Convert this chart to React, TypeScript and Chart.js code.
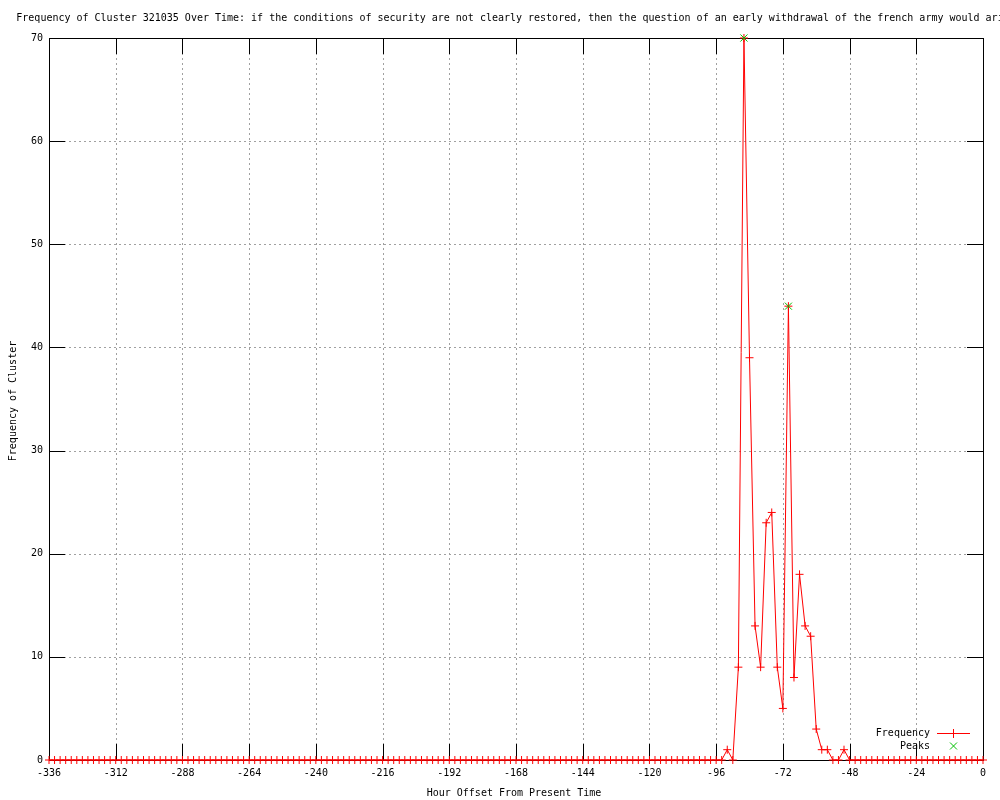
import { useEffect, useRef } from "react";
import { Chart, registerables } from "chart.js";

Chart.register(...registerables);

const titleText =
  "Frequency of Cluster 321035 Over Time: if the conditions of security are not clearly restored, then the question of an early withdrawal of the french army would arise";
const xAxisTitle = "Hour Offset From Present Time";
const yAxisTitle = "Frequency of Cluster";
const legendLabels = ["Frequency", "Peaks"];

const hours = [
  -336, -334, -332, -330, -328, -326, -324, -322, -320, -318, -316, -314,
  -312, -310, -308, -306, -304, -302, -300, -298, -296, -294, -292, -290,
  -288, -286, -284, -282, -280, -278, -276, -274, -272, -270, -268, -266,
  -264, -262, -260, -258, -256, -254, -252, -250, -248, -246, -244, -242,
  -240, -238, -236, -234, -232, -230, -228, -226, -224, -222, -220, -218,
  -216, -214, -212, -210, -208, -206, -204, -202, -200, -198, -196, -194,
  -192, -190, -188, -186, -184, -182, -180, -178, -176, -174, -172, -170,
  -168, -166, -164, -162, -160, -158, -156, -154, -152, -150, -148, -146,
  -144, -142, -140, -138, -136, -134, -132, -130, -128, -126, -124, -122,
  -120, -118, -116, -114, -112, -110, -108, -106, -104, -102, -100, -98,
  -96, -94, -92, -90, -88, -86, -84, -82, -80, -78, -76, -74,
  -72, -70, -68, -66, -64, -62, -60, -58, -56, -54, -52, -50,
  -48, -46, -44, -42, -40, -38, -36, -34, -32, -30, -28, -26,
  -24, -22, -20, -18, -16, -14, -12, -10, -8, -6, -4, -2,
  0,
];

const frequency = [
  0, 0, 0, 0, 0, 0, 0, 0, 0, 0, 0, 0,
  0, 0, 0, 0, 0, 0, 0, 0, 0, 0, 0, 0,
  0, 0, 0, 0, 0, 0, 0, 0, 0, 0, 0, 0,
  0, 0, 0, 0, 0, 0, 0, 0, 0, 0, 0, 0,
  0, 0, 0, 0, 0, 0, 0, 0, 0, 0, 0, 0,
  0, 0, 0, 0, 0, 0, 0, 0, 0, 0, 0, 0,
  0, 0, 0, 0, 0, 0, 0, 0, 0, 0, 0, 0,
  0, 0, 0, 0, 0, 0, 0, 0, 0, 0, 0, 0,
  0, 0, 0, 0, 0, 0, 0, 0, 0, 0, 0, 0,
  0, 0, 0, 0, 0, 0, 0, 0, 0, 0, 0, 0,
  0, 0, 1, 0, 9, 70, 39, 13, 9, 23, 24, 9,
  5, 44, 8, 18, 13, 12, 3, 1, 1, 0, 0, 1,
  0, 0, 0, 0, 0, 0, 0, 0, 0, 0, 0, 0,
  0, 0, 0, 0, 0, 0, 0, 0, 0, 0, 0, 0,
  0,
];

const peakHours = [-86, -70];
const peakValues = [70, 44];

const xTicks = [-336, -312, -288, -264, -240, -216, -192, -168, -144, -120, -96, -72, -48, -24, 0];
const yTicks = [0, 10, 20, 30, 40, 50, 60, 70];

const FONT = "'DejaVu Sans Mono', monospace";
const RED = "#ff0000";
const GREEN = "#00c000";

const decorPlugin = {
  id: "gnuplotDecor",
  beforeDatasetsDraw(chart: any) {
    const { ctx, chartArea } = chart;
    const { left, right, top, bottom } = chartArea;
    const xs = chart.scales.x;
    const ys = chart.scales.y;
    ctx.save();
    ctx.strokeStyle = "#a0a0a0";
    ctx.lineWidth = 1;
    ctx.setLineDash([2, 3]);
    xTicks.forEach((v) => {
      if (v === xTicks[0] || v === xTicks[xTicks.length - 1]) return;
      const px = Math.round(xs.getPixelForValue(v)) + 0.5;
      ctx.beginPath();
      ctx.moveTo(px, top);
      ctx.lineTo(px, bottom);
      ctx.stroke();
    });
    yTicks.forEach((v) => {
      if (v === yTicks[0] || v === yTicks[yTicks.length - 1]) return;
      const py = Math.round(ys.getPixelForValue(v)) + 0.5;
      ctx.beginPath();
      ctx.moveTo(left, py);
      ctx.lineTo(right, py);
      ctx.stroke();
    });
    ctx.setLineDash([]);
    // inward ticks
    ctx.strokeStyle = "#000";
    const tl = 16;
    xTicks.forEach((v) => {
      const px = Math.round(xs.getPixelForValue(v)) + 0.5;
      ctx.beginPath();
      ctx.moveTo(px, bottom);
      ctx.lineTo(px, bottom - tl);
      ctx.moveTo(px, top);
      ctx.lineTo(px, top + tl);
      ctx.stroke();
    });
    yTicks.forEach((v) => {
      const py = Math.round(ys.getPixelForValue(v)) + 0.5;
      ctx.beginPath();
      ctx.moveTo(left, py);
      ctx.lineTo(left + tl, py);
      ctx.moveTo(right, py);
      ctx.lineTo(right - tl, py);
      ctx.stroke();
    });
    // border
    ctx.strokeRect(
      Math.round(left) + 0.5,
      Math.round(top) + 0.5,
      Math.round(right) - Math.round(left),
      Math.round(bottom) - Math.round(top)
    );
    ctx.restore();
  },
  afterDraw(chart: any) {
    const { ctx, chartArea } = chart;
    const { left, right, top, bottom } = chartArea;
    const cx = (left + right) / 2;
    ctx.save();
    ctx.fillStyle = "#000";
    ctx.font = `10px ${FONT}`;
    ctx.textBaseline = "middle";
    ctx.textAlign = "center";
    ctx.fillText(titleText, cx, 18);
    ctx.fillText(xAxisTitle, cx - 2, 793);
    ctx.save();
    ctx.translate(13, (top + bottom) / 2 + 2);
    ctx.rotate(-Math.PI / 2);
    ctx.fillText(yAxisTitle, 0, 0);
    ctx.restore();
    // legend
    ctx.textAlign = "right";
    ctx.fillText(legendLabels[0], 930, 733);
    ctx.fillText(legendLabels[1], 930, 746);
    ctx.lineWidth = 1;
    ctx.strokeStyle = RED;
    ctx.beginPath();
    ctx.moveTo(937, 733.5);
    ctx.lineTo(970, 733.5);
    ctx.moveTo(953.5, 729);
    ctx.lineTo(953.5, 738);
    ctx.stroke();
    ctx.strokeStyle = GREEN;
    ctx.beginPath();
    ctx.moveTo(950, 742.5);
    ctx.lineTo(957, 749.5);
    ctx.moveTo(957, 742.5);
    ctx.lineTo(950, 749.5);
    ctx.stroke();
    ctx.restore();
  },
};

export default function App() {
  const canvasRef = useRef<HTMLCanvasElement | null>(null);

  useEffect(() => {
    document.body.style.margin = "0";
    const canvas = canvasRef.current;
    if (!canvas) return;
    const freqData = hours.map((h, i) => ({ x: h, y: frequency[i] }));
    const peakData = peakHours.map((h, i) => ({ x: h, y: peakValues[i] }));
    const chart = new Chart(canvas, {
      type: "line",
      data: {
        datasets: [
          {
            label: legendLabels[1],
            data: peakData,
            showLine: false,
            pointStyle: "crossRot",
            pointRadius: 5,
            pointBorderWidth: 1,
            borderColor: GREEN,
            backgroundColor: GREEN,
            pointBorderColor: GREEN,
            order: 0,
            clip: false,
          },
          {
            label: legendLabels[0],
            data: freqData,
            borderColor: RED,
            backgroundColor: RED,
            pointBorderColor: RED,
            borderWidth: 1,
            pointStyle: "cross",
            pointRadius: 4,
            pointBorderWidth: 1,
            tension: 0,
            fill: false,
            order: 1,
            clip: false,
          },
        ],
      },
      options: {
        animation: false,
        responsive: false,
        devicePixelRatio: 1,
        layout: { padding: { top: 38, right: 17, left: 0, bottom: 0 } },
        plugins: {
          legend: { display: false },
          tooltip: { enabled: false },
          title: { display: false },
        },
        scales: {
          x: {
            type: "linear",
            min: -336,
            max: 0,
            afterBuildTicks: (scale: any) => {
              scale.ticks = xTicks.map((v) => ({ value: v }));
            },
            afterFit: (scale: any) => {
              scale.height = 40;
            },
            grid: { display: false, drawTicks: false },
            border: { display: false },
            ticks: {
              color: "#000",
              font: { family: FONT, size: 10 },
              padding: 7,
              maxRotation: 0,
              autoSkip: false,
            },
          },
          y: {
            type: "linear",
            min: 0,
            max: 70,
            afterBuildTicks: (scale: any) => {
              scale.ticks = yTicks.map((v) => ({ value: v }));
            },
            afterFit: (scale: any) => {
              scale.width = 49;
            },
            grid: { display: false, drawTicks: false },
            border: { display: false },
            ticks: {
              color: "#000",
              font: { family: FONT, size: 10 },
              padding: 6,
              autoSkip: false,
            },
          },
        },
      },
      plugins: [decorPlugin],
    });
    return () => chart.destroy();
  }, []);

  return (
    <div style={{ width: 1000, height: 800 }}>
      <canvas ref={canvasRef} width={1000} height={800} />
    </div>
  );
}
